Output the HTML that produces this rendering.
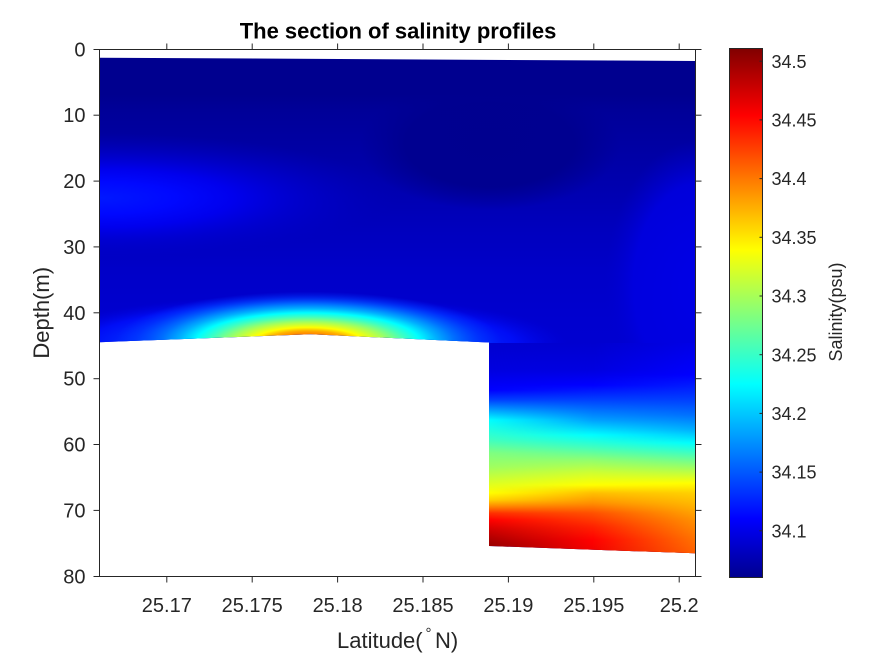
<!DOCTYPE html>
<html>
<head>
<meta charset="utf-8">
<style>
html,body{margin:0;padding:0;background:#fff;}
svg{display:block;}
text{font-family:"Liberation Sans",Arial,sans-serif;fill:#262626;}
</style>
</head>
<body>
<svg width="875" height="656" viewBox="0 0 875 656" xmlns="http://www.w3.org/2000/svg">
<defs>
  <clipPath id="dc">
    <polygon points="99.5,57.7 695.5,61 695.5,553.3 489,546 489,342.5 310.7,334.3 99.5,342.2"/>
  </clipPath>
  <linearGradient id="base" gradientUnits="userSpaceOnUse" x1="0" y1="57" x2="0" y2="400">
    <stop offset="0" stop-color="#00008F"/>
    <stop offset="0.11" stop-color="#00008F"/>
    <stop offset="0.155" stop-color="#000098"/>
    <stop offset="0.271" stop-color="#0000A4"/>
    <stop offset="0.388" stop-color="#0000B0"/>
    <stop offset="0.504" stop-color="#0000BE"/>
    <stop offset="0.621" stop-color="#0000C8"/>
    <stop offset="0.767" stop-color="#0000CF"/>
    <stop offset="1" stop-color="#0000D2"/>
  </linearGradient>
  <radialGradient id="dark">
    <stop offset="0" stop-color="#00008F" stop-opacity="1"/>
    <stop offset="0.65" stop-color="#00008F" stop-opacity="0.95"/>
    <stop offset="1" stop-color="#00008F" stop-opacity="0"/>
  </radialGradient>
  <radialGradient id="lblob">
    <stop offset="0" stop-color="#0018FF" stop-opacity="1"/>
    <stop offset="0.25" stop-color="#0008FF" stop-opacity="1"/>
    <stop offset="0.45" stop-color="#0000F0" stop-opacity="0.95"/>
    <stop offset="0.65" stop-color="#0000D8" stop-opacity="0.7"/>
    <stop offset="1" stop-color="#0000C0" stop-opacity="0"/>
  </radialGradient>
  <radialGradient id="rblob">
    <stop offset="0" stop-color="#0000E6" stop-opacity="1"/>
    <stop offset="0.7" stop-color="#0000E2" stop-opacity="0.85"/>
    <stop offset="1" stop-color="#0000D0" stop-opacity="0"/>
  </radialGradient>
  <radialGradient id="outerhot">
    <stop offset="0" stop-color="#0040FF" stop-opacity="1"/>
    <stop offset="0.6" stop-color="#0030FF" stop-opacity="1"/>
    <stop offset="0.8" stop-color="#0010FF" stop-opacity="0.8"/>
    <stop offset="1" stop-color="#0000E0" stop-opacity="0"/>
  </radialGradient>
  <radialGradient id="hot">
    <stop offset="0" stop-color="#FF3000"/>
    <stop offset="0.12" stop-color="#FF7000"/>
    <stop offset="0.2" stop-color="#FFB000"/>
    <stop offset="0.26" stop-color="#FFFF00"/>
    <stop offset="0.36" stop-color="#A0FF60"/>
    <stop offset="0.45" stop-color="#40FFC0"/>
    <stop offset="0.52" stop-color="#00FFFF"/>
    <stop offset="0.6" stop-color="#00B0FF"/>
    <stop offset="0.68" stop-color="#0070FF" stop-opacity="1"/>
    <stop offset="0.8" stop-color="#0040FF" stop-opacity="0.5"/>
    <stop offset="0.9" stop-color="#0030FF" stop-opacity="0"/>
  </radialGradient>
  <!-- right region columns -->
  <linearGradient id="rL" gradientUnits="userSpaceOnUse" x1="0" y1="343" x2="0" y2="553">
    <stop offset="0" stop-color="#0000D0"/>
    <stop offset="0.129" stop-color="#0000E0"/>
    <stop offset="0.224" stop-color="#0000FF"/>
    <stop offset="0.271" stop-color="#0040FF"/>
    <stop offset="0.319" stop-color="#00A0FF"/>
    <stop offset="0.367" stop-color="#00FFFF"/>
    <stop offset="0.462" stop-color="#40FFC0"/>
    <stop offset="0.524" stop-color="#80FF80"/>
    <stop offset="0.59" stop-color="#A0FF60"/>
    <stop offset="0.652" stop-color="#D0FF30"/>
    <stop offset="0.714" stop-color="#FFFF00"/>
    <stop offset="0.748" stop-color="#FFD000"/>
    <stop offset="0.781" stop-color="#FF8000"/>
    <stop offset="0.81" stop-color="#FF3000"/>
    <stop offset="0.843" stop-color="#FF0000"/>
    <stop offset="0.89" stop-color="#D00000"/>
    <stop offset="0.952" stop-color="#A00000"/>
    <stop offset="1" stop-color="#900000"/>
  </linearGradient>
  <linearGradient id="rM" gradientUnits="userSpaceOnUse" x1="0" y1="343" x2="0" y2="553">
    <stop offset="0" stop-color="#0000D0"/>
    <stop offset="0.129" stop-color="#0000E0"/>
    <stop offset="0.2" stop-color="#0000FF"/>
    <stop offset="0.271" stop-color="#0040FF"/>
    <stop offset="0.367" stop-color="#00A0FF"/>
    <stop offset="0.438" stop-color="#00FFFF"/>
    <stop offset="0.495" stop-color="#40FFC0"/>
    <stop offset="0.557" stop-color="#90FF70"/>
    <stop offset="0.619" stop-color="#D0FF30"/>
    <stop offset="0.676" stop-color="#FFFF00"/>
    <stop offset="0.714" stop-color="#FFC000"/>
    <stop offset="0.762" stop-color="#FF9000"/>
    <stop offset="0.81" stop-color="#FF5000"/>
    <stop offset="0.876" stop-color="#FF2000"/>
    <stop offset="0.938" stop-color="#FF0000"/>
    <stop offset="1" stop-color="#F00000"/>
  </linearGradient>
  <linearGradient id="rR" gradientUnits="userSpaceOnUse" x1="0" y1="343" x2="0" y2="553">
    <stop offset="0" stop-color="#0000E6"/>
    <stop offset="0.152" stop-color="#0000FF"/>
    <stop offset="0.271" stop-color="#0040FF"/>
    <stop offset="0.343" stop-color="#0070FF"/>
    <stop offset="0.414" stop-color="#00B0FF"/>
    <stop offset="0.476" stop-color="#00FFFF"/>
    <stop offset="0.524" stop-color="#40FFC0"/>
    <stop offset="0.571" stop-color="#80FF80"/>
    <stop offset="0.619" stop-color="#C0FF40"/>
    <stop offset="0.667" stop-color="#FFFF00"/>
    <stop offset="0.714" stop-color="#FFD000"/>
    <stop offset="0.781" stop-color="#FFB000"/>
    <stop offset="0.843" stop-color="#FF9000"/>
    <stop offset="0.938" stop-color="#FF7000"/>
    <stop offset="1" stop-color="#FF6000"/>
  </linearGradient>
  <linearGradient id="mgMid" gradientUnits="userSpaceOnUse" x1="489" y1="0" x2="592" y2="0">
    <stop offset="0" stop-color="#000"/>
    <stop offset="1" stop-color="#fff"/>
  </linearGradient>
  <linearGradient id="mgRight" gradientUnits="userSpaceOnUse" x1="592" y1="0" x2="695" y2="0">
    <stop offset="0" stop-color="#000"/>
    <stop offset="1" stop-color="#fff"/>
  </linearGradient>
  <mask id="mMid" maskUnits="userSpaceOnUse" x="480" y="330" width="230" height="240">
    <rect x="480" y="330" width="230" height="240" fill="url(#mgMid)"/>
  </mask>
  <mask id="mRight" maskUnits="userSpaceOnUse" x="480" y="330" width="230" height="240">
    <rect x="480" y="330" width="230" height="240" fill="url(#mgRight)"/>
  </mask>
  <linearGradient id="cbar" gradientUnits="userSpaceOnUse" x1="0" y1="577.3" x2="0" y2="48.3">
    <stop offset="0" stop-color="#00008F"/>
    <stop offset="0.111" stop-color="#0000FF"/>
    <stop offset="0.365" stop-color="#00FFFF"/>
    <stop offset="0.619" stop-color="#FFFF00"/>
    <stop offset="0.873" stop-color="#FF0000"/>
    <stop offset="1" stop-color="#800000"/>
  </linearGradient>
</defs>

<!-- Data field -->
<g clip-path="url(#dc)">
  <rect x="99" y="55" width="598" height="505" fill="url(#base)"/>
  <ellipse cx="490" cy="145" rx="130" ry="65" fill="url(#dark)"/>
  <ellipse cx="99" cy="198" rx="300" ry="65" fill="url(#lblob)"/>
  <ellipse cx="700" cy="285" rx="95" ry="145" fill="url(#rblob)"/>
  <ellipse cx="300" cy="345" rx="270" ry="50" fill="url(#outerhot)"/>
  <ellipse cx="308" cy="342" rx="215" ry="56" fill="url(#hot)"/>
  <rect x="489" y="343" width="207" height="212" fill="url(#rL)"/>
  <rect x="489" y="343" width="207" height="212" fill="url(#rM)" mask="url(#mMid)"/>
  <rect x="489" y="343" width="207" height="212" fill="url(#rR)" mask="url(#mRight)"/>
</g>

<!-- Axes box -->
<rect x="99.5" y="49.5" width="596" height="527" fill="none" stroke="#262626" stroke-width="1"/>

<!-- Ticks -->
<g stroke="#262626" stroke-width="1">
  <line x1="93.5" y1="49.5" x2="99.5" y2="49.5"/>
  <line x1="93.5" y1="115.2" x2="99.5" y2="115.2"/>
  <line x1="93.5" y1="181.1" x2="99.5" y2="181.1"/>
  <line x1="93.5" y1="246.9" x2="99.5" y2="246.9"/>
  <line x1="93.5" y1="312.8" x2="99.5" y2="312.8"/>
  <line x1="93.5" y1="378.7" x2="99.5" y2="378.7"/>
  <line x1="93.5" y1="444.5" x2="99.5" y2="444.5"/>
  <line x1="93.5" y1="510.4" x2="99.5" y2="510.4"/>
  <line x1="93.5" y1="576.5" x2="99.5" y2="576.5"/>

  <line x1="695.5" y1="49.5" x2="701.5" y2="49.5"/>
  <line x1="695.5" y1="115.2" x2="701.5" y2="115.2"/>
  <line x1="695.5" y1="181.1" x2="701.5" y2="181.1"/>
  <line x1="695.5" y1="246.9" x2="701.5" y2="246.9"/>
  <line x1="695.5" y1="312.8" x2="701.5" y2="312.8"/>
  <line x1="695.5" y1="378.7" x2="701.5" y2="378.7"/>
  <line x1="695.5" y1="444.5" x2="701.5" y2="444.5"/>
  <line x1="695.5" y1="510.4" x2="701.5" y2="510.4"/>
  <line x1="695.5" y1="576.5" x2="701.5" y2="576.5"/>

  <line x1="166.8" y1="576.5" x2="166.8" y2="582.5"/>
  <line x1="252.2" y1="576.5" x2="252.2" y2="582.5"/>
  <line x1="337.6" y1="576.5" x2="337.6" y2="582.5"/>
  <line x1="423" y1="576.5" x2="423" y2="582.5"/>
  <line x1="508.4" y1="576.5" x2="508.4" y2="582.5"/>
  <line x1="593.8" y1="576.5" x2="593.8" y2="582.5"/>
  <line x1="679.2" y1="576.5" x2="679.2" y2="582.5"/>

  <line x1="166.8" y1="43.5" x2="166.8" y2="49.5"/>
  <line x1="252.2" y1="43.5" x2="252.2" y2="49.5"/>
  <line x1="337.6" y1="43.5" x2="337.6" y2="49.5"/>
  <line x1="423" y1="43.5" x2="423" y2="49.5"/>
  <line x1="508.4" y1="43.5" x2="508.4" y2="49.5"/>
  <line x1="593.8" y1="43.5" x2="593.8" y2="49.5"/>
  <line x1="679.2" y1="43.5" x2="679.2" y2="49.5"/>
</g>

<!-- Y tick labels -->
<g font-size="20" text-anchor="end">
  <text x="85.5" y="56.5">0</text>
  <text x="85.5" y="122.2">10</text>
  <text x="85.5" y="188.1">20</text>
  <text x="85.5" y="253.9">30</text>
  <text x="85.5" y="319.8">40</text>
  <text x="85.5" y="385.7">50</text>
  <text x="85.5" y="451.5">60</text>
  <text x="85.5" y="517.4">70</text>
  <text x="85.5" y="583.3">80</text>
</g>

<!-- X tick labels -->
<g font-size="20" text-anchor="middle">
  <text x="166.8" y="612">25.17</text>
  <text x="252.2" y="612">25.175</text>
  <text x="337.6" y="612">25.18</text>
  <text x="423" y="612">25.185</text>
  <text x="508.4" y="612">25.19</text>
  <text x="593.8" y="612">25.195</text>
  <text x="679.2" y="612">25.2</text>
</g>

<!-- Title -->
<text x="398" y="38.5" font-size="22" font-weight="bold" text-anchor="middle" style="fill:#000">The section of salinity profiles</text>

<!-- Axis labels -->
<text x="337" y="648" font-size="22">Latitude(</text>
<text x="425.5" y="638" font-size="15">°</text>
<text x="435" y="648" font-size="22">N)</text>
<text transform="translate(49,312.8) rotate(-90)" font-size="22" text-anchor="middle">Depth(m)</text>

<!-- Colorbar -->
<rect x="729.5" y="48.5" width="33" height="529" fill="url(#cbar)"/>
<rect x="729.5" y="48.5" width="33" height="529" fill="none" stroke="#262626" stroke-width="1"/>
<g stroke="#262626" stroke-width="1">
  <line x1="759.5" y1="61.2" x2="762.5" y2="61.2"/>
  <line x1="759.5" y1="119.9" x2="762.5" y2="119.9"/>
  <line x1="759.5" y1="178.6" x2="762.5" y2="178.6"/>
  <line x1="759.5" y1="237.3" x2="762.5" y2="237.3"/>
  <line x1="759.5" y1="296" x2="762.5" y2="296"/>
  <line x1="759.5" y1="354.7" x2="762.5" y2="354.7"/>
  <line x1="759.5" y1="413.4" x2="762.5" y2="413.4"/>
  <line x1="759.5" y1="472.1" x2="762.5" y2="472.1"/>
  <line x1="759.5" y1="530.8" x2="762.5" y2="530.8"/>
</g>
<g font-size="18">
  <text x="771.5" y="67.8">34.5</text>
  <text x="771.5" y="126.5">34.45</text>
  <text x="771.5" y="185.2">34.4</text>
  <text x="771.5" y="243.9">34.35</text>
  <text x="771.5" y="302.6">34.3</text>
  <text x="771.5" y="361.3">34.25</text>
  <text x="771.5" y="420">34.2</text>
  <text x="771.5" y="478.7">34.15</text>
  <text x="771.5" y="537.4">34.1</text>
</g>
<text transform="translate(842,312) rotate(-90)" font-size="18" text-anchor="middle">Salinity(psu)</text>
</svg>
</body>
</html>
